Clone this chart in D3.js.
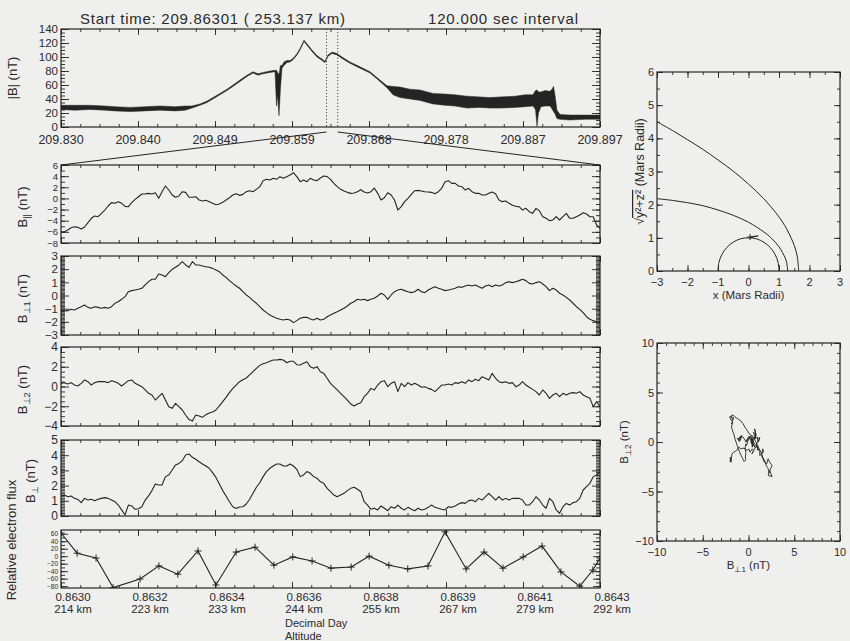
<!DOCTYPE html>
<html><head><meta charset="utf-8">
<script src="https://cdn.jsdelivr.net/npm/d3@7"></script>
<style>
body{margin:0;background:#efefed;}
svg{display:block;}
text{font-family:"Liberation Sans",Arial,sans-serif;fill:#2b2b2b;}
</style></head><body>
<svg id="chart" width="850" height="641"></svg>
<script>
// ---- interval description ----
const startDay = 209.86301;
const startAltKm = 253.137;
const intervalSec = 120;

// ---- tick labels ----
const overviewTickLabels = ["209.830","209.840","209.849","209.859","209.868","209.878","209.887","209.897"];
const dayTickLabels = ["0.8630","0.8632","0.8634","0.8636","0.8638","0.8639","0.8641","0.8643"];
const altTickLabels = ["214 km","223 km","233 km","244 km","255 km","267 km","279 km","292 km"];

// ---- |B| overview: decimal day with low/high envelope of the 1-s samples (nT) ----
const bTotDay = [209.83000,209.83174,209.83360,209.83547,209.83671,209.83858,209.84044,209.84231,209.84417,209.84541,
  209.84628,209.84728,209.84815,209.84889,209.84976,209.85063,209.85138,209.85225,209.85312,209.85387,
  209.85449,209.85511,209.85598,209.85660,209.85679,209.85691,209.85710,209.85728,209.85747,209.85772,
  209.85809,209.85847,209.85884,209.85934,209.85971,209.86021,209.86070,209.86120,209.86182,209.86282,
  209.86319,209.86369,209.86431,209.86493,209.86592,209.86717,209.86841,209.86965,209.87052,209.87127,
  209.87214,209.87338,209.87462,209.87624,209.87773,209.87897,209.88047,209.88208,209.88332,209.88457,
  209.88643,209.88768,209.88867,209.88898,209.88917,209.88935,209.88966,209.89016,209.89078,209.89103,
  209.89122,209.89140,209.89165,209.89203,209.89327,209.89513,209.89700];
const bTotLow = [25,24,25,24,23,22,23,24,23,24,
  27,31,35,40,46,52,58,65,72,77,
  74,76,78,79,30,45,16,55,84,88,
  92,93,96,103,110,122,115,108,100,92,
  101,105,103,98,91,84,77,65,56,46,
  42,40,38,33,31,30,27,28,27,27,
  28,29,30,25,1,20,29,30,30,26,
  22,19,12,11,10,11,11];
const bTotHigh = [31,31,31,30,29,28,29,30,29,30,
  30,33,37,42,48,54,60,67,74,79,
  76,78,80,81,81,78,75,88,88,93,
  95,95,98,105,112,124,117,110,102,94,
  103,107,105,100,93,86,79,67,59,58,
  57,54,53,48,47,46,44,43,42,43,
  44,46,46,52,53,50,50,52,51,54,
  58,46,24,18,17,17,17];

// ---- 120-s interval, samples every 0.75 s (nT) ----
const sampleStep = 0.75;
const bPar = [-5.97,-5.97,-5.67,-5.25,-5.07,-5.19,-5.49,-5.13,-4.35,-3.57,
  -3.16,-3.28,-2.68,-2.08,-1.36,-0.76,-0.88,-0.58,-0.88,-1.42,
  -1.48,-0.76,-0.16,0.31,0.79,0.79,0.91,0.79,1.03,0.02,
  1.21,2.23,1.51,0.61,0.20,0.43,1.21,1.09,0.20,0.20,
  0.31,-0.28,-0.46,-0.34,-0.58,-0.88,-1.12,-1.00,-0.70,-0.28,
  0.13,0.61,0.85,0.55,0.73,1.21,1.39,1.21,1.63,2.11,
  3.19,3.43,3.31,3.61,3.43,3.91,3.61,3.91,4.20,4.62,
  3.91,
  3.01,3.31,3.01,3.61,3.31,3.19,3.67,4.03,3.91,3.43,
  2.71,2.11,1.63,1.33,1.09,0.91,0.97,1.21,1.57,1.15,
  0.97,1.21,1.87,0.91,-0.28,0.13,1.03,0.61,-0.28,-2.08,
  -1.48,-0.58,0.02,0.73,1.39,1.45,1.33,1.21,1.15,1.09,
  0.85,1.21,1.81,3.01,3.19,2.71,2.71,2.23,2.11,1.51,
  1.81,1.21,0.91,0.91,0.61,0.61,0.91,1.15,0.85,-0.28,
  -0.58,-0.46,-0.88,-1.24,-1.42,-1.48,-2.08,-1.78,-2.38,-2.68,
  -1.78,-2.20,-3.28,-3.57,-3.99,-3.87,-3.28,-3.87,-3.28,-2.68,
  -3.57,-3.57,-3.28,-2.98,-2.56,-2.80,-3.28,-3.28,-4.77,-5.37];
const bPerp1 = [-1.23,-1.18,-1.15,-1.05,-1.10,-0.97,-0.85,-0.72,-0.90,-0.97,
  -0.85,-0.90,-0.97,-0.90,-0.97,-0.85,-0.59,-0.47,-0.29,-0.09,
  0.29,0.37,0.42,0.47,0.55,0.80,1.05,1.23,1.23,1.63,
  1.56,1.43,1.73,1.99,2.14,2.32,2.57,2.32,2.14,2.57,
  2.32,2.32,2.24,2.19,2.14,2.06,1.94,1.81,1.56,1.38,
  1.13,0.92,0.72,0.55,0.29,0.04,-0.14,-0.39,-0.59,-0.85,
  -1.10,-1.30,-1.48,-1.61,-1.73,-1.81,-1.86,-1.81,-1.86,-2.06,
  -1.91,
  -1.73,-1.66,-1.66,-1.78,-1.86,-1.73,-1.86,-1.81,-1.61,-1.48,
  -1.35,-1.23,-1.10,-0.97,-0.80,-0.59,-0.47,-0.29,-0.34,-0.29,
  -0.39,-0.29,-0.21,-0.04,0.17,0.04,-0.29,0.04,0.29,0.42,
  0.47,0.37,0.29,0.22,0.29,0.47,0.29,0.22,0.42,0.55,
  0.67,0.55,0.47,0.37,0.42,0.47,0.55,0.67,0.62,0.72,
  0.80,0.72,0.80,0.67,0.55,0.72,0.80,0.67,0.80,0.72,
  0.80,0.98,1.05,0.98,1.05,1.13,1.23,1.13,0.92,0.87,
  0.98,1.05,0.87,0.67,0.37,0.55,0.42,0.17,0.04,-0.14,
  -0.34,-0.59,-0.85,-1.05,-1.30,-1.61,-1.81,-1.91,-1.99,-1.99];
const bPerp2 = [0.32,0.39,0.25,0.39,0.15,0.05,0.32,0.66,0.49,0.15,
  0.39,0.49,0.49,0.49,0.39,0.59,0.49,0.32,0.05,0.32,
  0.59,0.66,0.32,0.15,-0.02,-0.35,-0.69,-0.86,-1.37,-1.03,
  -0.69,-1.37,-2.04,-2.21,-1.70,-2.04,-2.38,-2.89,-3.35,-3.50,
  -2.89,-2.99,-3.12,-2.85,-2.68,-2.58,-2.38,-1.97,-1.54,-1.10,
  -0.62,-0.19,0.15,0.49,0.69,0.86,1.17,1.50,1.84,2.14,
  2.31,2.41,2.55,2.68,2.68,2.75,2.68,2.41,2.55,2.55,
  2.21,
  2.18,2.35,2.51,2.01,1.84,2.01,1.50,1.33,0.83,0.32,
  -0.02,-0.35,-0.69,-1.03,-1.37,-1.77,-1.97,-1.77,-1.64,-1.03,
  -0.69,-0.19,-0.35,0.15,0.49,0.59,-0.02,0.32,0.49,-0.52,
  0.32,-0.02,0.39,0.15,0.32,0.15,-0.08,-0.02,-0.19,-0.29,
  -0.52,-0.19,0.15,0.15,0.25,0.15,0.39,0.32,0.49,0.32,
  0.66,0.49,0.73,0.59,0.99,0.83,0.66,1.33,0.83,0.49,
  0.39,0.49,0.32,0.39,-0.02,0.15,0.49,0.15,-0.08,-0.29,
  -0.52,-0.86,-0.35,-0.69,-1.20,-0.86,-0.69,-1.03,-0.69,-0.86,
  -0.69,-0.62,-0.69,-0.52,-0.86,-1.03,-1.20,-2.04,-1.54,-2.04];
const bPerp = [1.32,1.38,1.27,1.32,1.16,1.10,0.88,1.16,1.05,1.10,
  1.01,1.10,1.16,1.21,1.16,1.05,0.94,0.72,0.40,0.07,
  0.72,0.66,0.44,0.48,0.61,1.05,1.32,1.67,2.11,2.04,
  2.04,2.59,2.70,3.03,3.36,3.46,3.64,4.01,4.08,3.86,
  3.73,3.57,3.42,3.29,3.14,2.85,2.54,2.11,1.67,1.32,
  0.94,0.61,0.49,0.59,0.61,0.79,1.10,1.49,1.89,2.19,
  2.59,2.92,3.14,3.29,3.42,3.42,3.29,3.29,3.42,3.29,
  3.07,
  2.59,2.70,2.92,2.81,2.59,2.48,2.26,2.15,1.82,1.60,
  1.38,1.27,1.38,1.49,1.67,1.82,1.89,1.76,1.60,0.94,
  0.72,0.44,0.51,0.40,0.66,0.51,0.35,0.61,0.51,0.72,
  0.51,0.40,0.57,0.44,0.35,0.51,0.40,0.44,0.57,0.72,
  0.57,0.51,0.44,0.40,0.61,0.57,0.66,0.79,0.88,0.83,
  1.01,1.05,0.94,1.16,1.05,1.27,1.49,1.27,1.05,1.27,
  1.05,1.16,1.05,1.16,1.16,1.16,1.05,0.72,0.72,0.94,
  1.27,1.05,0.72,0.51,1.16,0.94,0.40,0.18,0.61,0.83,
  0.72,0.88,0.94,1.16,1.71,1.93,2.15,2.59,2.70,2.92];

// ---- relative electron flux (seconds into interval) ----
const fluxSec = [0,3.6,7.8,11.6,17.6,21.8,26.0,30.5,34.5,39.0,43.2,47.4,51.6,55.9,60.1,64.6,68.6,73.0,77.2,81.7,85.5,90.2,94.2,98.4,102.9,107.1,111.3,115.5,118.4,120];
const fluxVal = [62,8,-5,-84,-61,-26,-48,14,-77,11,24,-24,-2,-13,-32,-29,0,-24,-34,-26,65,-34,11,-32,-2,27,-42,-80,-37,-5];

// ---- orbit panel: boundaries in (x, sqrt(y^2+z^2)), Mars radii ----
const bowX = [1.645,1.6,1.5,1.25,1.0,0.5,0.0,-0.5,-1.0,-1.5,-2.0,-2.5,-3.0];
const bowR = [0.0,0.43,0.77,1.27,1.63,2.18,2.62,3.01,3.35,3.67,3.96,4.24,4.50];
const mpbX = [1.285,1.25,1.2,1.0,0.75,0.5,0.0,-0.5,-1.0,-1.5,-2.0,-2.5,-3.0];
const mpbR = [0.0,0.26,0.40,0.73,0.99,1.18,1.47,1.68,1.84,1.97,2.06,2.13,2.18];
const marsX = [1.0,0.97,0.87,0.71,0.5,0.26,0.0,-0.26,-0.5,-0.71,-0.87,-0.97,-1.0];
const marsR = [0.0,0.26,0.5,0.71,0.87,0.97,1.0,0.97,0.87,0.71,0.5,0.26,0.0];
const scX = [0.05,0.32];
const scR = [1.02,1.06];

// ---- drawing ----
const ink = '#242424';
const L = 61, R = 600;
const svg = d3.select('#chart');
svg.append('rect').attr('width',850).attr('height',641).attr('fill','#efefed');

let clipId = 0;
function clipRect(x0,y0,x1,y1){
  const id = 'clip' + (clipId++);
  svg.append('clipPath').attr('id',id).append('rect')
    .attr('x',x0).attr('y',y0).attr('width',x1-x0).attr('height',y1-y0);
  return 'url(#' + id + ')';
}
function styleAxis(g){
  g.select('.domain').remove();
  g.selectAll('line').attr('stroke',ink).attr('stroke-width',0.9);
  g.selectAll('text').attr('fill','#2b2b2b').style('font-family','"Liberation Sans",Arial,sans-serif');
}
function frame(x0,y0,x1,y1){
  svg.append('rect').attr('x',x0).attr('y',y0).attr('width',x1-x0).attr('height',y1-y0)
    .attr('fill','none').attr('stroke',ink).attr('stroke-width',1.2);
}
function yAxes(y,x0,x1,majors,minors,fontSize,majLen,minLen){
  svg.append('g').attr('transform','translate('+x0+',0)')
    .call(d3.axisLeft(y).tickValues(majors).tickSize(-majLen).tickPadding(3).tickFormat(d=>d3.format('d')(d).replace('-','\u2212')))
    .attr('font-size',fontSize).call(styleAxis);
  svg.append('g').attr('transform','translate('+x0+',0)')
    .call(d3.axisLeft(y).tickValues(minors).tickSize(-minLen).tickFormat('')).call(styleAxis);
  svg.append('g').attr('transform','translate('+x1+',0)')
    .call(d3.axisRight(y).tickValues(majors).tickSize(-majLen).tickFormat('')).call(styleAxis);
  svg.append('g').attr('transform','translate('+x1+',0)')
    .call(d3.axisRight(y).tickValues(minors).tickSize(-minLen).tickFormat('')).call(styleAxis);
}
function xAxes(x,y0,y1,majors,minors){
  [[y1,d3.axisBottom],[y0,d3.axisTop]].forEach(([yy,ax])=>{
    svg.append('g').attr('transform','translate(0,'+yy+')')
      .call(ax(x).tickValues(majors).tickSize(-6).tickFormat('')).call(styleAxis);
    svg.append('g').attr('transform','translate(0,'+yy+')')
      .call(ax(x).tickValues(minors).tickSize(-3).tickFormat('')).call(styleAxis);
  });
}
function rotLabel(x,y,parts,size){
  const t = svg.append('text').attr('transform','translate('+x+','+y+') rotate(-90)')
    .attr('text-anchor','middle').attr('font-size',size);
  parts.forEach(p=>{
    const s = t.append('tspan').text(p.t);
    if (p.sub) s.attr('font-size',size*0.72).attr('dy',3);
    if (p.up) s.attr('dy',-3);
  });
  return t;
}
function range7(a,b){ return d3.range(8).map(k=>a+(b-a)*k/7); }
function minorRange(a,b,n){ return d3.range(7*n+1).map(k=>a+(b-a)*k/(7*n)); }

// title
svg.append('text').attr('x',80).attr('y',24).attr('font-size',15)
  .attr('textLength',265).attr('lengthAdjust','spacing')
  .text('Start time: ' + startDay.toFixed(5) + ' ( ' + startAltKm.toFixed(3) + ' km)');
svg.append('text').attr('x',428).attr('y',24).attr('font-size',15)
  .attr('textLength',150).attr('lengthAdjust','spacing')
  .text(intervalSec.toFixed(3) + ' sec interval');

// |B| overview panel
const ovTop = 29, ovBot = 127;
const dayEnd = startDay + intervalSec/86400;
const xOv = d3.scaleLinear().domain([209.830,209.897]).range([L,R]);
const yOv = d3.scaleLinear().domain([0,140]).range([ovBot,ovTop]);
const ovMaj = range7(209.830,209.897);
xAxes(xOv,ovTop,ovBot,ovMaj,minorRange(209.830,209.897,4));
yAxes(yOv,L,R,d3.range(0,141,20),d3.range(0,141,5),11.5,8,4);
svg.append('g').selectAll('text').data(ovMaj).join('text')
  .attr('x',d=>xOv(d)).attr('y',ovBot+17).attr('text-anchor','middle').attr('font-size',12.5)
  .text((d,i)=>overviewTickLabels[i]);
const ovClip = clipRect(L,ovTop,R,ovBot);
svg.append('path').attr('clip-path',ovClip)
  .attr('d',d3.area().x((d,i)=>xOv(bTotDay[i])).y0((d,i)=>yOv(bTotLow[i])).y1((d,i)=>yOv(bTotHigh[i]))(bTotDay))
  .attr('fill',ink).attr('stroke',ink).attr('stroke-width',0.5).attr('stroke-linejoin','round');
[startDay,dayEnd].forEach(d=>{
  svg.append('line').attr('x1',xOv(d)).attr('x2',xOv(d)).attr('y1',ovTop).attr('y2',ovBot)
    .attr('stroke',ink).attr('stroke-width',1).attr('stroke-dasharray','1,2.2');
});
frame(L,ovTop,R,ovBot);
rotLabel(17,78,[{t:'|B|  (nT)'}],13);

// zoomed 120-s panels
const xSec = d3.scaleLinear().domain([0,intervalSec]).range([L,R]);
const secMaj = range7(0,intervalSec);
const secMin = minorRange(0,intervalSec,4);
const panels = [
  {data:bPar,   top:165, bot:243, dom:[-8,6],  maj:d3.range(-8,7,2), min:d3.range(-8,6.01,1), fs:9.5, lab:[{t:'B'},{t:'||',sub:true},{t:' (nT)',up:true}], lx:27},
  {data:bPerp1, top:256, bot:335, dom:[-3,3],  maj:d3.range(-3,4,1), min:d3.range(-3,3.001,0.1), fs:11.5, lab:[{t:'B'},{t:'\u22a51',sub:true},{t:' (nT)',up:true}], lx:27},
  {data:bPerp2, top:347, bot:426, dom:[-4,4],  maj:d3.range(-4,5,2), min:d3.range(-4,4.01,0.5), fs:12, lab:[{t:'B'},{t:'\u22a52',sub:true},{t:' (nT)',up:true}], lx:27},
  {data:bPerp,  top:440, bot:516, dom:[0,5],   maj:d3.range(0,6,1),  min:d3.range(0,5.001,0.1), fs:12, lab:[{t:'B'},{t:'\u22a5',sub:true},{t:' (nT)',up:true}], lx:35}
];
panels.forEach(p=>{
  const y = d3.scaleLinear().domain(p.dom).range([p.bot,p.top]);
  xAxes(xSec,p.top,p.bot,secMaj,secMin);
  yAxes(y,L,R,p.maj,p.min,p.fs,8,4);
  svg.append('path').attr('clip-path',clipRect(L,p.top,R,p.bot))
    .attr('d',d3.line().x((d,i)=>xSec(i*sampleStep)).y(d=>y(d))(p.data))
    .attr('fill','none').attr('stroke',ink).attr('stroke-width',1.1).attr('stroke-linejoin','round');
  frame(L,p.top,R,p.bot);
  rotLabel(p.lx,(p.top+p.bot)/2+3,p.lab,13);
});

// connector from the overview interval to the zoomed panels
const zoomTop = panels[0].top;
svg.append('line').attr('x1',xOv(startDay)).attr('y1',ovBot+5).attr('x2',L).attr('y2',zoomTop).attr('stroke',ink).attr('stroke-width',1);
svg.append('line').attr('x1',xOv(dayEnd)).attr('y1',ovBot+5).attr('x2',R).attr('y2',zoomTop).attr('stroke',ink).attr('stroke-width',1);

// electron flux panel
const fTop = 530, fBot = 588;
const yFlux = d3.scaleLinear().domain([-85,70]).range([fBot,fTop]);
xAxes(xSec,fTop,fBot,secMaj,secMin);
yAxes(yFlux,L,R,d3.range(-80,61,20),d3.range(-80,70,10),6.5,7,4);
const fClip = clipRect(L,fTop,R,fBot);
svg.append('path').attr('clip-path',fClip)
  .attr('d',d3.line().x((d,i)=>xSec(fluxSec[i])).y(d=>yFlux(d))(fluxVal))
  .attr('fill','none').attr('stroke',ink).attr('stroke-width',1.1);
svg.append('g').attr('clip-path',fClip).selectAll('path').data(fluxVal).join('path')
  .attr('transform',(d,i)=>'translate('+xSec(fluxSec[i])+','+yFlux(d)+')')
  .attr('d','M-3.5,0H3.5M0,-3.5V3.5').attr('stroke',ink).attr('stroke-width',1);
frame(L,fTop,R,fBot);
rotLabel(16,540,[{t:'Relative electron flux'}],13);
const bl = svg.append('g');
secMaj.forEach((s,i)=>{
  bl.append('text').attr('x',xSec(s)+12).attr('y',fBot+13).attr('text-anchor','middle').attr('font-size',11.5).text(dayTickLabels[i]);
  bl.append('text').attr('x',xSec(s)+12).attr('y',fBot+25).attr('text-anchor','middle').attr('font-size',11.5).text(altTickLabels[i]);
});
svg.append('text').attr('x',285).attr('y',fBot+39).attr('font-size',11).text('Decimal Day');
svg.append('text').attr('x',285).attr('y',fBot+52).attr('font-size',11).text('Altitude');

// orbit context panel
const oX0 = 657, oX1 = 840, oTop = 72, oBot = 271;
const xO = d3.scaleLinear().domain([-3,3]).range([oX0,oX1]);
const yO = d3.scaleLinear().domain([0,6]).range([oBot,oTop]);
xAxes(xO,oTop,oBot,d3.range(-3,4,1),d3.range(-3,3.01,0.5));
yAxes(yO,oX0,oX1,d3.range(0,7,1),d3.range(0,6.01,0.5),11,6,3);
svg.append('g').selectAll('text').data(d3.range(-3,4,1)).join('text')
  .attr('x',d=>xO(d)).attr('y',oBot+15).attr('text-anchor','middle').attr('font-size',11)
  .text(d=>String(d).replace('-','\u2212'));
const oClip = clipRect(oX0,oTop,oX1,oBot);
const oLine = d3.line().curve(d3.curveCatmullRom).x(d=>xO(d[0])).y(d=>yO(d[1]));
[[bowX,bowR],[mpbX,mpbR],[marsX,marsR]].forEach(([xs,rs])=>{
  svg.append('path').attr('clip-path',oClip).attr('d',oLine(d3.zip(xs,rs)))
    .attr('fill','none').attr('stroke',ink).attr('stroke-width',1);
});
svg.append('path').attr('d',d3.line().x(d=>xO(d[0])).y(d=>yO(d[1]))(d3.zip(scX,scR)))
  .attr('stroke',ink).attr('stroke-width',1.2);
svg.append('path').attr('transform','translate('+xO(scX[0])+','+yO(scR[0])+')')
  .attr('d','M-3,0H3M0,-3V3').attr('stroke',ink).attr('stroke-width',1);
frame(oX0,oTop,oX1,oBot);
svg.append('text').attr('x',(oX0+oX1)/2).attr('y',oBot+28).attr('text-anchor','middle').attr('font-size',11.5)
  .text('x (Mars Radii)');
const oyl = svg.append('text').attr('transform','translate(644,'+((oTop+oBot)/2)+') rotate(-90)')
  .attr('text-anchor','middle').attr('font-size',12.5);
oyl.append('tspan').text('\u221a');
oyl.append('tspan').style('text-decoration','overline').text('y\u00b2+z\u00b2');
oyl.append('tspan').text('  (Mars Radii)');

// hodogram panel
const hTop = 343, hBot = 541;
const xH = d3.scaleLinear().domain([-10,10]).range([oX0,oX1]);
const yH = d3.scaleLinear().domain([-10,10]).range([hBot,hTop]);
xAxes(xH,hTop,hBot,d3.range(-10,11,5),d3.range(-10,10.01,1));
yAxes(yH,oX0,oX1,d3.range(-10,11,5),d3.range(-10,10.01,1),11,6,3);
svg.append('g').selectAll('text').data(d3.range(-10,11,5)).join('text')
  .attr('x',d=>xH(d)).attr('y',hBot+15).attr('text-anchor','middle').attr('font-size',11)
  .text(d=>String(d).replace('-','\u2212'));
svg.append('path').attr('d',d3.line().x(d=>xH(d[0])).y(d=>yH(d[1]))(d3.zip(bPerp1,bPerp2)))
  .attr('fill','none').attr('stroke',ink).attr('stroke-width',0.9);
frame(oX0,hTop,oX1,hBot);
const hx = svg.append('text').attr('x',(oX0+oX1)/2).attr('y',hBot+28).attr('text-anchor','middle').attr('font-size',11.5);
hx.append('tspan').text('B');
hx.append('tspan').attr('font-size',8).attr('dy',3).text('\u22a51');
hx.append('tspan').attr('dy',-3).text(' (nT)');
rotLabel(628,(hTop+hBot)/2,[{t:'B'},{t:'\u22a52',sub:true},{t:' (nT)',up:true}],11.5);
</script>
</body></html>
